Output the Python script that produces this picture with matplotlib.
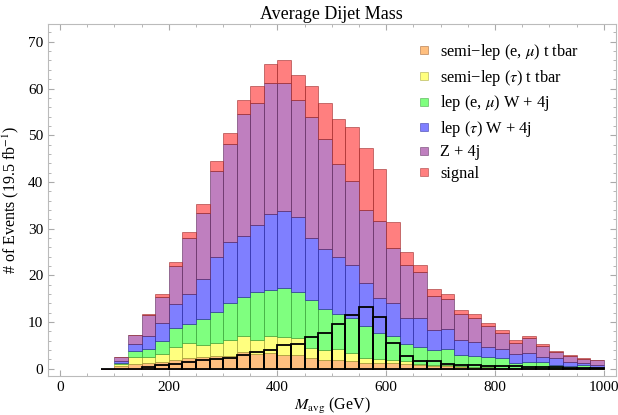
import numpy as np
import matplotlib
matplotlib.use('Agg')
import matplotlib.pyplot as plt
from matplotlib.lines import Line2D
from matplotlib.ticker import MultipleLocator

# bin low edges (GeV), width 25
bin_lo = np.arange(75, 1000, 25)
bin_width = 25

# events per bin for each sample (19.5 fb^-1)
ttbar_emu = [0, 0.5, 1.1, 1.3, 1.4, 1.8, 2.2, 2.5, 2.75, 2.8, 3.5, 3.1, 3.3, 3.0, 3.0, 2.2, 1.8, 1.9,
             1.55, 1.3, 1.3, 1.3, 1.0, 0.75, 0.5, 0.55, 0.3, 0.25, 0.2, 0.1, 0.1, 0.05, 0.05, 0.0, 0.0, 0.0, 0.0]
ttbar_tau = [0, 0.45, 1.4, 1.3, 1.85, 2.95, 3.2, 2.5, 2.85, 3.45, 3.5, 3.0, 3.6, 3.7, 3.5, 2.3, 2.25, 2.35,
             1.9, 0.9, 0.8, 0.6, 0.6, 0.3, 0.3, 0.25, 0.2, 0.15, 0.15, 0.1, 0.05, 0.05, 0.05, 0.05, 0.05, 0.05, 0.05]
w_emu = [0, 0.35, 1.25, 1.7, 2.7, 4.0, 4.1, 5.7, 6.6, 7.85, 8.4, 10.3, 10.0, 10.6, 9.9, 10.3, 8.8, 7.5,
         7.45, 7.0, 5.6, 5.1, 3.75, 3.65, 3.25, 3.45, 2.5, 2.35, 2.05, 2.0, 1.1, 1.4, 1.3, 0.75, 0.55, 0.65, 0.15]
w_tau = [0, 0.35, 1.45, 2.8, 3.8, 5.2, 6.5, 8.5, 11.7, 13.0, 13.0, 14.3, 16.3, 16.5, 16.0, 13.1, 12.85, 12.15,
         11.2, 9.25, 7.5, 7.15, 5.6, 6.25, 4.15, 4.35, 3.1, 3.05, 2.2, 2.05, 1.85, 1.8, 1.2, 1.4, 0.9, 0.55, 0.65]
z_4j = [0, 0.75, 1.95, 4.3, 5.65, 8.05, 11.9, 14.2, 18.5, 21.1, 26.2, 26.3, 27.9, 27.4, 25.2, 25.9, 23.5, 20.0,
        18.1, 15.45, 16.4, 11.75, 11.35, 9.65, 7.3, 6.4, 5.55, 5.15, 4.65, 3.45, 2.5, 3.2, 2.2, 1.3, 1.3, 0.75, 0.95]
signal = [0, 0, 0, 0.4, 0.7, 0.9, 1.4, 1.8, 2.0, 2.3, 3.0, 3.5, 4.1, 5.0, 5.2, 6.8, 7.7, 9.5,
          11.6, 13.3, 11.1, 5.6, 2.7, 1.7, 1.6, 1.1, 0.85, 0.75, 0.55, 0.5, 0.5, 0.4, 0.4, 0.3, 0.2, 0.2, 0.1]

labels = ["semi\u2212lep (e, $\\mu$) t tbar", "semi\u2212lep ($\\tau$) t tbar",
          "lep (e, $\\mu$) W + 4j", "lep ($\\tau$) W + 4j", "Z + 4j", "signal"]
colors = ['#ff8000', '#ffff00', '#00ff00', '#0000ff', '#800080', '#ff0000']
edge_colors = ['#a06030', '#a0a040', '#40a040', '#3030a0', '#603060', '#a03030']

plt.rcParams['font.family'] = ['Liberation Serif', 'DejaVu Serif']
plt.rcParams['mathtext.fontset'] = 'stix'

fig = plt.figure(figsize=(6.18, 4.15), dpi=100)
ax = fig.add_axes([0.0777, 0.0947, 0.9186, 0.8473])

samples = [ttbar_emu, ttbar_tau, w_emu, w_tau, z_4j, signal]
bottom = np.zeros(len(bin_lo))
for vals, c, ec in zip(samples, colors, edge_colors):
    vals = np.array(vals)
    ax.bar(bin_lo, vals, width=bin_width, bottom=bottom, align='edge',
           facecolor=matplotlib.colors.to_rgba(c, 0.5),
           edgecolor=matplotlib.colors.to_rgba(ec, 0.6), linewidth=0.7)
    bottom += vals

# signal alone as black outline
ax.bar(bin_lo, signal, width=bin_width, align='edge', fill=False,
       edgecolor='black', linewidth=1.3)

ax.set_xlim(-22, 1022)
ax.set_ylim(-1.5, 73.8)
ax.xaxis.set_major_locator(MultipleLocator(200))
ax.xaxis.set_minor_locator(MultipleLocator(50))
ax.yaxis.set_major_locator(MultipleLocator(10))
ax.yaxis.set_minor_locator(MultipleLocator(2))
ax.tick_params(which='both', direction='in', top=True, right=True, color='#aaaaaa',
               labelsize=11)
ax.tick_params(which='major', length=4)
ax.tick_params(which='minor', length=2)
for s in ax.spines.values():
    s.set_color('#bbbbbb')

ax.set_title("Average Dijet Mass", fontsize=13, pad=4)
ax.set_xlabel("$M_{\\rm avg}$ (GeV)", fontsize=11.5, labelpad=2)
ax.set_ylabel("# of Events (19.5 fb$^{-1}$)", fontsize=11.5, labelpad=5)

handles = [Line2D([], [], linestyle='none', marker='s', markersize=6,
                  markerfacecolor=matplotlib.colors.to_rgba(c, 0.5),
                  markeredgecolor=matplotlib.colors.to_rgba(ec, 0.6), markeredgewidth=0.6)
           for c, ec in zip(colors, edge_colors)]
ax.legend(handles, labels, loc='upper left', bbox_to_anchor=(0.636, 0.972), frameon=False,
          fontsize=11.8, handlelength=0.8, handletextpad=0.6, labelspacing=0.34, borderpad=0)

fig.savefig("out.png", dpi=100)
